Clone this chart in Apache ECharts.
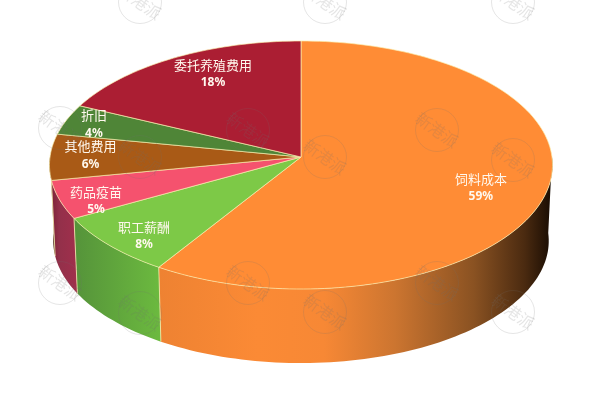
<!DOCTYPE html>
<html>
<head>
<meta charset="utf-8">
<style>html,body{margin:0;padding:0;background:#fff}#c{width:600px;height:400px}</style>
<script src="https://cdn.jsdelivr.net/npm/echarts@6/dist/echarts.min.js"></script>
</head>
<body>
<div id="c"></div>
<script>
const categories = ['饲料成本','职工薪酬','药品疫苗','其他费用','折旧','委托养殖费用'];
const values = [59, 8, 5, 6, 4, 18];

const topColors = ['#ff8c35','#7dc947','#f5526e','#a95a16','#4f8537','#ab1e33'];
const wallStops = [
  [[0,'#ee8232'],[0.25,'#fb8a35'],[0.42,'#f78835'],[0.6,'#cc7530'],[0.8,'#8a5222'],[0.93,'#4a2a10'],[1,'#170b02']],
  [[0,'#55933a'],[1,'#6cba3f']],
  [[0,'#7c2338'],[0.3,'#93304a'],[1,'#a12f4c']],
  [[0,'#2e1606'],[1,'#50280e']],
  [[0,'#3a6128'],[1,'#3a6128']],
  [[0,'#7f1626'],[1,'#7f1626']]
];
const labelRadius = [0.745,0.854,0.868,0.84,0.885,0.80];
const labelTurn = [2.5,-2.1,-3.3,1.6,0.4,5.1];
const marks = [[140,2],[325,2],[513,2],[60,128],[248,130],[437,130],[140,157],[325,157],[513,160],[60,283],[248,283],[437,283],[140,313],[325,312],[513,312]];

const apexX = 301, apexY = 157, radX = 251, radY = 123.5, persp = 0.0645;
const depth = 76, floorScale = 0.985;
const total = values.reduce((a,b)=>a+b,0);
const rad = d => d*Math.PI/180;

let run = 0;
const spans = values.map(v => { const s = run; run += v; return [s/total*360, run/total*360]; });

function project(deg, r, floor) {
  const X = r*Math.sin(rad(deg)), Y = r*Math.cos(rad(deg)), d = 1 + persp*Y;
  const s = floor ? floorScale : 1;
  return [apexX + s*radX*X/d, apexY + (floor?depth:0) - s*radY*Y/d];
}
function arc(a, b, floor) {
  const n = Math.max(2, Math.ceil(Math.abs(b-a)/1.5)), pts = [];
  for (let i = 0; i <= n; i++) pts.push(project(a+(b-a)*i/n, 1, floor));
  return pts;
}
const seamColor = 'rgba(250,238,175,0.85)';

function renderWall(params) {
  const i = params.dataIndex, a = Math.max(spans[i][0], 90), b = Math.min(spans[i][1], 270);
  if (b <= a) return {type:'group', children:[]};
  const top = arc(a,b,false), low = arc(b,a,true), pts = top.concat(low);
  const xs = pts.map(p=>p[0]);
  const fill = new echarts.graphic.LinearGradient(Math.min(...xs),0,Math.max(...xs),0,
    wallStops[i].map(s=>({offset:s[0],color:s[1]})), true);
  const children = [{type:'polygon', shape:{points:pts}, style:{fill:fill}}];
  if (a > 90) {
    const p = project(a,1,false), q = project(a,1,true);
    children.push({type:'line', shape:{x1:p[0],y1:p[1],x2:q[0],y2:q[1]}, style:{stroke:seamColor,lineWidth:0.9}});
  }
  return {type:'group', children};
}
function renderTop(params) {
  const i = params.dataIndex, a = spans[i][0], b = spans[i][1];
  const pts = [[apexX,apexY]].concat(arc(a,b,false));
  return {type:'polygon', shape:{points:pts},
    style:{fill:topColors[i], stroke:seamColor, lineWidth:0.8, lineJoin:'round'}};
}
function renderLabel(params) {
  const i = params.dataIndex;
  const p = project((spans[i][0]+spans[i][1])/2 + labelTurn[i], labelRadius[i], false);
  return {type:'group', children:[
    {type:'text', x:p[0], y:p[1]-8, style:{text:categories[i], fill:'#fff8ee', align:'center', verticalAlign:'middle',
      font:'13px "Noto Sans CJK SC", sans-serif'}},
    {type:'text', x:p[0], y:p[1]+10, style:{text:values[i]+'%', fill:'#fff8ee', align:'center', verticalAlign:'middle',
      font:'bold 12px "Noto Sans", sans-serif'}}
  ]};
}
const seriesData = values.map((v,i)=>({name:categories[i], value:v}));
const graphics = [];
marks.forEach(m => {
  graphics.push({type:'circle', z:100, silent:true, shape:{cx:m[0],cy:m[1],r:21.5},
    style:{fill:'none', stroke:'rgba(110,110,110,0.18)', lineWidth:1}});
  graphics.push({type:'text', z:100, silent:true, x:m[0], y:m[1], rotation:-0.62, originX:0, originY:0,
    style:{text:'新港派', fill:'rgba(110,110,110,0.18)', align:'center', verticalAlign:'middle',
      font:'16px "Noto Sans CJK SC", sans-serif'}});
});
const chart = echarts.init(document.getElementById('c'), null, {renderer:'canvas'});
chart.setOption({
  animation:false,
  backgroundColor:'#ffffff',
  graphic:{elements:graphics},
  series:[
    {type:'custom', coordinateSystem:'none', z:2, silent:true, renderItem:renderWall, data:seriesData},
    {type:'custom', coordinateSystem:'none', z:3, silent:true, renderItem:renderTop, data:seriesData},
    {type:'custom', coordinateSystem:'none', z:4, silent:true, renderItem:renderLabel, data:seriesData}
  ]
});
</script>
</body>
</html>
